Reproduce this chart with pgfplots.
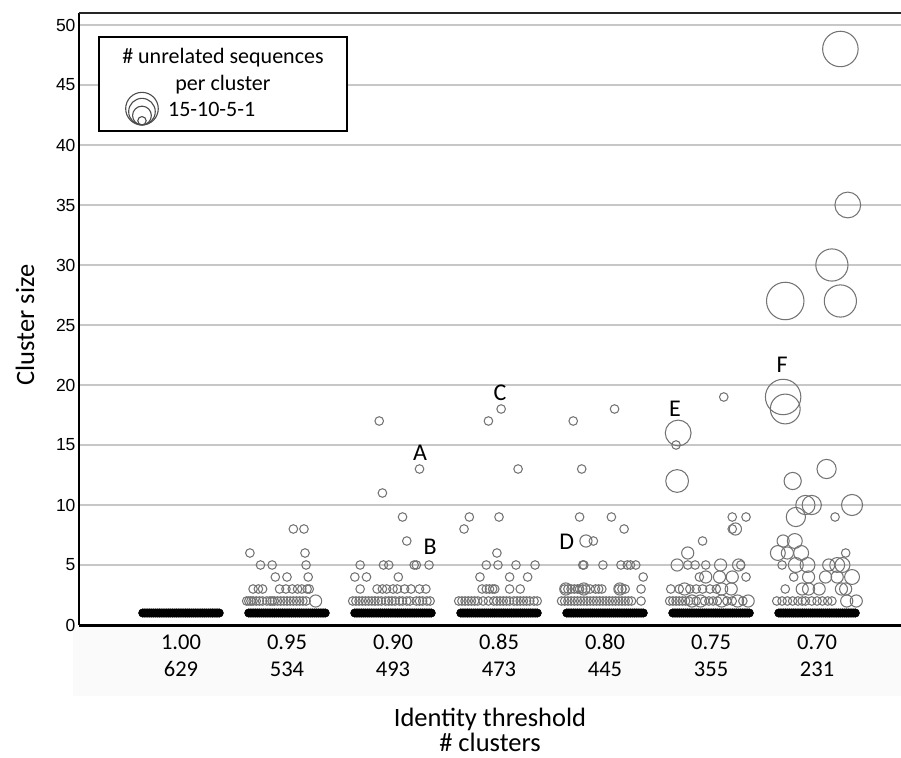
\documentclass[border=0pt]{standalone}
\usepackage{pgfplots}
\pgfplotsset{compat=1.18}
\usepackage{fontspec}
\setmainfont{Carlito}
\newfontfamily\arialf{Liberation Sans}
\pgfplotsset{bub/.style={scatter, only marks, mark=o,
  scatter/use mapped color={draw=black!55, fill=none},
  mark options={line width=1.05pt},
  visualization depends on={4.3*sqrt(\thisrow{n}) \as \myrad},
  scatter/@pre marker code/.append style={/tikz/mark size=\myrad pt}},
  onerow/.style={black, line width=8.6pt, line cap=round, mark=*, mark size=4.3pt, mark options={draw=black, fill=black, line width=0.4pt}}}
\begin{document}
\begin{tikzpicture}[x=1pt,y=1pt]
\useasboundingbox (0,0) rectangle (901,757);
\fill[black!2] (73,61) rectangle (901,132);
\begin{axis}[at={(79pt,132pt)}, anchor=south west, scale only axis,
  width=822pt, height=612pt,
  xmin=-0.962, xmax=6.792, ymin=0, ymax=51,
  axis lines=left, axis line style={-},
  x axis line style={line width=3pt},
  y axis line style={line width=2.2pt},
  ytick={0,5,...,50}, ymajorgrids, grid style={black!22, line width=1.4pt},
  xtick={0,...,6},
  xticklabels={{1.00\\629},{0.95\\534},{0.90\\493},{0.85\\473},{0.80\\445},{0.75\\355},{0.70\\231}},
  xticklabel style={align=center, font=\fontsize{22.5}{27}\selectfont, yshift=-6pt},
  yticklabel style={font=\arialf\fontsize{17.5}{18}\selectfont},
  /pgf/number format/assume math mode=true,
  major tick length=0pt,
  xlabel={Identity threshold\\\# clusters},
  ylabel={Cluster size},
  every axis x label/.style={at={(axis description cs:0.5,-0.1716)}, anchor=center, align=center, font=\fontsize{26.5}{25.5}\selectfont},
  every axis y label/.style={at={(axis description cs:-0.0657,0.49)}, anchor=center, rotate=90, font=\fontsize{26.5}{26}\selectfont},
  clip=false]
% rows of single-member clusters (y = 1)
\addplot[onerow] coordinates {(-0.36,1)(-0.34,1)(-0.32,1)(-0.30,1)(-0.28,1)(-0.26,1)(-0.24,1)(-0.22,1)(-0.20,1)(-0.18,1)(-0.16,1)(-0.14,1)(-0.12,1)(-0.10,1)(-0.08,1)(-0.06,1)(-0.04,1)(-0.02,1)(0,1)(0.02,1)(0.04,1)(0.06,1)(0.08,1)(0.10,1)(0.12,1)(0.14,1)(0.16,1)(0.18,1)(0.20,1)(0.22,1)(0.24,1)(0.26,1)(0.28,1)(0.30,1)(0.32,1)(0.34,1)(0.36,1)};
\addplot[onerow] coordinates {(0.64,1)(0.66,1)(0.68,1)(0.70,1)(0.72,1)(0.74,1)(0.76,1)(0.78,1)(0.80,1)(0.82,1)(0.84,1)(0.86,1)(0.88,1)(0.90,1)(0.92,1)(0.94,1)(0.96,1)(0.98,1)(1,1)(1.02,1)(1.04,1)(1.06,1)(1.08,1)(1.10,1)(1.12,1)(1.14,1)(1.16,1)(1.18,1)(1.20,1)(1.22,1)(1.24,1)(1.26,1)(1.28,1)(1.30,1)(1.32,1)(1.34,1)(1.36,1)};
\addplot[onerow] coordinates {(1.64,1)(1.66,1)(1.68,1)(1.70,1)(1.72,1)(1.74,1)(1.76,1)(1.78,1)(1.80,1)(1.82,1)(1.84,1)(1.86,1)(1.88,1)(1.90,1)(1.92,1)(1.94,1)(1.96,1)(1.98,1)(2,1)(2.02,1)(2.04,1)(2.06,1)(2.08,1)(2.10,1)(2.12,1)(2.14,1)(2.16,1)(2.18,1)(2.20,1)(2.22,1)(2.24,1)(2.26,1)(2.28,1)(2.30,1)(2.32,1)(2.34,1)(2.36,1)};
\addplot[onerow] coordinates {(2.64,1)(2.66,1)(2.68,1)(2.70,1)(2.72,1)(2.74,1)(2.76,1)(2.78,1)(2.80,1)(2.82,1)(2.84,1)(2.86,1)(2.88,1)(2.90,1)(2.92,1)(2.94,1)(2.96,1)(2.98,1)(3,1)(3.02,1)(3.04,1)(3.06,1)(3.08,1)(3.10,1)(3.12,1)(3.14,1)(3.16,1)(3.18,1)(3.20,1)(3.22,1)(3.24,1)(3.26,1)(3.28,1)(3.30,1)(3.32,1)(3.34,1)(3.36,1)};
\addplot[onerow] coordinates {(3.64,1)(3.66,1)(3.68,1)(3.70,1)(3.72,1)(3.74,1)(3.76,1)(3.78,1)(3.80,1)(3.82,1)(3.84,1)(3.86,1)(3.88,1)(3.90,1)(3.92,1)(3.94,1)(3.96,1)(3.98,1)(4,1)(4.02,1)(4.04,1)(4.06,1)(4.08,1)(4.10,1)(4.12,1)(4.14,1)(4.16,1)(4.18,1)(4.20,1)(4.22,1)(4.24,1)(4.26,1)(4.28,1)(4.30,1)(4.32,1)(4.34,1)(4.36,1)};
\addplot[onerow] coordinates {(4.64,1)(4.66,1)(4.68,1)(4.70,1)(4.72,1)(4.74,1)(4.76,1)(4.78,1)(4.80,1)(4.82,1)(4.84,1)(4.86,1)(4.88,1)(4.90,1)(4.92,1)(4.94,1)(4.96,1)(4.98,1)(5,1)(5.02,1)(5.04,1)(5.06,1)(5.08,1)(5.10,1)(5.12,1)(5.14,1)(5.16,1)(5.18,1)(5.20,1)(5.22,1)(5.24,1)(5.26,1)(5.28,1)(5.30,1)(5.32,1)(5.34,1)(5.36,1)};
\addplot[onerow] coordinates {(5.64,1)(5.66,1)(5.68,1)(5.70,1)(5.72,1)(5.74,1)(5.76,1)(5.78,1)(5.80,1)(5.82,1)(5.84,1)(5.86,1)(5.88,1)(5.90,1)(5.92,1)(5.94,1)(5.96,1)(5.98,1)(6,1)(6.02,1)(6.04,1)(6.06,1)(6.08,1)(6.10,1)(6.12,1)(6.14,1)(6.16,1)(6.18,1)(6.20,1)(6.22,1)(6.24,1)(6.26,1)(6.28,1)(6.30,1)(6.32,1)(6.34,1)(6.36,1)};
% threshold 0.95
\addplot[bub] table {
x y n
1.06 8 1
1.16 8 1
0.65 6 1
1.17 6 1
0.75 5 1
0.86 5 1
1.18 5 1
0.89 4 1
1.00 4 1
1.20 4 1
0.68 3 1
0.73 3 1
0.77 3 1
0.93 3 1
0.99 3 1
1.05 3 1
1.10 3 1
1.14 3 1
1.19 3 1
1.21 3 1
0.62 2 1
0.64 2 1
0.66 2 1
0.68 2 1
0.71 2 1
0.74 2 1
0.77 2 1
0.81 2 1
0.84 2 1
0.86 2 1
0.88 2 1
0.91 2 1
0.94 2 1
0.97 2 1
1.00 2 1
1.03 2 1
1.06 2 1
1.09 2 1
1.12 2 1
1.15 2 1
1.18 2 1
1.27 2 2
};
% threshold 0.90
\addplot[bub] table {
x y n
1.87 17 1
2.25 13 1
1.90 11 1
2.09 9 1
2.13 7 1
1.69 5 1
1.91 5 1
1.96 5 1
2.20 5 1
2.22 5 1
2.34 5 1
1.64 4 1
1.75 4 1
2.05 4 1
1.69 3 1
1.85 3 1
1.90 3 1
1.94 3 1
2.00 3 1
2.04 3 1
2.11 3 1
2.17 3 1
2.25 3 1
2.31 3 1
1.62 2 1
1.65 2 1
1.68 2 1
1.71 2 1
1.74 2 1
1.77 2 1
1.80 2 1
1.83 2 1
1.86 2 1
1.89 2 1
1.93 2 1
1.96 2 1
1.99 2 1
2.02 2 1
2.06 2 1
2.09 2 1
2.13 2 1
2.16 2 1
2.22 2 1
2.25 2 1
2.28 2 1
2.32 2 1
2.35 2 1
};
% threshold 0.85
\addplot[bub] table {
x y n
3.02 18 1
2.90 17 1
3.18 13 1
2.72 9 1
3.00 9 1
2.67 8 1
2.98 6 1
2.88 5 1
2.99 5 1
3.16 5 1
3.34 5 1
2.82 4 1
3.10 4 1
3.27 4 1
2.84 3 1
2.88 3 1
2.91 3 1
2.94 3 1
2.96 3 1
3.10 3 1
3.20 3 1
2.62 2 1
2.65 2 1
2.68 2 1
2.71 2 1
2.74 2 1
2.77 2 1
2.80 2 1
2.85 2 1
2.90 2 1
2.95 2 1
2.98 2 1
3.01 2 1
3.04 2 1
3.07 2 1
3.10 2 1
3.14 2 1
3.17 2 1
3.20 2 1
3.23 2 1
3.26 2 1
3.29 2 1
3.33 2 1
3.36 2 1
};
% threshold 0.80
\addplot[bub] table {
x y n
4.09 18 1
3.70 17 1
3.78 13 1
3.76 9 1
4.06 9 1
4.18 8 1
3.82 7 2
3.89 7 1
3.79 5 1
3.80 5 1
3.98 5 1
4.15 5 1
4.21 5 1
4.24 5 1
4.29 5 1
4.36 4 1
3.62 3 1
3.63 3 2
3.65 3 1
3.68 3 1
3.71 3 1
3.74 3 1
3.76 3 1
3.79 3 1
3.80 3 2
3.82 3 1
3.86 3 1
3.91 3 1
3.94 3 1
3.97 3 1
4.13 3 1
4.14 3 2
4.16 3 1
4.19 3 1
4.34 3 1
3.59 2 1
3.62 2 1
3.65 2 1
3.68 2 1
3.71 2 1
3.74 2 1
3.77 2 1
3.80 2 1
3.83 2 1
3.86 2 1
3.89 2 1
3.92 2 1
3.95 2 1
3.98 2 1
4.01 2 1
4.04 2 1
4.07 2 1
4.10 2 1
4.13 2 1
4.16 2 1
4.19 2 1
4.22 2 1
4.25 2 1
4.34 2 1
};
% threshold 0.75
\addplot[bub] table {
x y n
5.12 19 1
4.69 16 9
4.67 15 1
4.68 12 7
5.20 9 1
5.33 9 1
5.23 8 2
5.20 8 1
4.92 7 1
4.78 6 2
4.68 5 2
4.78 5 1
4.85 5 1
4.95 5 1
5.09 5 2
5.26 5 2
5.28 5 1
4.89 4 1
4.95 4 2
5.08 4 2
5.20 4 2
5.33 4 1
4.62 3 1
4.70 3 1
4.75 3 2
4.80 3 1
4.86 3 1
4.92 3 1
4.99 3 1
5.05 3 1
5.10 3 2
5.19 3 2
4.61 2 1
4.64 2 1
4.67 2 1
4.70 2 1
4.73 2 1
4.76 2 1
4.79 2 1
4.82 2 2
4.86 2 1
4.90 2 2
4.94 2 1
4.98 2 1
5.02 2 1
5.06 2 1
5.10 2 2
5.15 2 1
5.20 2 1
5.25 2 2
5.30 2 1
5.35 2 2
};
% threshold 0.70
\addplot[bub] table {
x y n
6.22 48 17
6.29 35 9
6.14 30 14
5.70 27 19
6.22 27 14
5.68 19 17
5.70 18 12
6.09 13 5
5.77 12 4
5.89 10 5
5.95 10 5
6.33 10 6
5.80 9 5
6.17 9 1
5.68 7 2
5.79 7 3
5.63 6 3
5.72 6 2
5.85 6 3
6.27 6 1
5.67 5 1
5.80 5 3
5.91 5 3
6.11 5 2
6.19 5 3
6.24 5 3
5.78 4 1
5.92 4 2
6.08 4 2
6.19 4 2
6.33 4 3
5.70 3 1
5.86 3 2
5.92 3 2
6.02 3 2
6.23 3 2
6.27 3 2
5.62 2 1
5.67 2 1
5.72 2 1
5.77 2 1
5.82 2 1
5.86 2 1
5.89 2 1
5.95 2 1
6.00 2 1
6.05 2 1
6.10 2 1
6.14 2 1
6.28 2 2
6.37 2 2
};
% top frame line
\draw[line width=2pt, black!85] (rel axis cs:0,1) -- (rel axis cs:1,1);
% annotation letters
\node[font=\fontsize{24}{24}\selectfont] at (axis cs:2.255,14.33) {A};
\node[font=\fontsize{24}{24}\selectfont] at (axis cs:2.35,6.5) {B};
\node[font=\fontsize{24}{24}\selectfont] at (axis cs:3.01,19.33) {C};
\node[font=\fontsize{24}{24}\selectfont] at (axis cs:3.64,6.92) {D};
\node[font=\fontsize{24}{24}\selectfont] at (axis cs:4.66,18.0) {E};
\node[font=\fontsize{24}{24}\selectfont] at (axis cs:5.67,21.67) {F};
% legend
\draw[black, line width=1.2pt, fill=white] (axis cs:-0.774,49.0) rectangle (axis cs:1.566,41.17);
\node[font=\fontsize{22}{22}\selectfont] at (axis cs:0.396,47.25) {\# unrelated sequences};
\node[font=\fontsize{22}{22}\selectfont] at (axis cs:0.396,45.0) {per cluster};
\node[font=\fontsize{22}{22}\selectfont, anchor=west, inner sep=0pt] at (axis cs:-0.123,42.95) {15-10-5-1};
\draw[black!70, line width=1.1pt] (axis cs:-0.368,41.67) ++(0pt,16.3pt) circle[radius=16.3pt];
\draw[black!70, line width=1.1pt] (axis cs:-0.368,41.67) ++(0pt,13.3pt) circle[radius=13.3pt];
\draw[black!70, line width=1.1pt] (axis cs:-0.368,41.67) ++(0pt,9.4pt) circle[radius=9.4pt];
\draw[black!70, line width=1.1pt] (axis cs:-0.368,41.67) ++(0pt,4.2pt) circle[radius=4.2pt];
\end{axis}
\end{tikzpicture}
\end{document}
